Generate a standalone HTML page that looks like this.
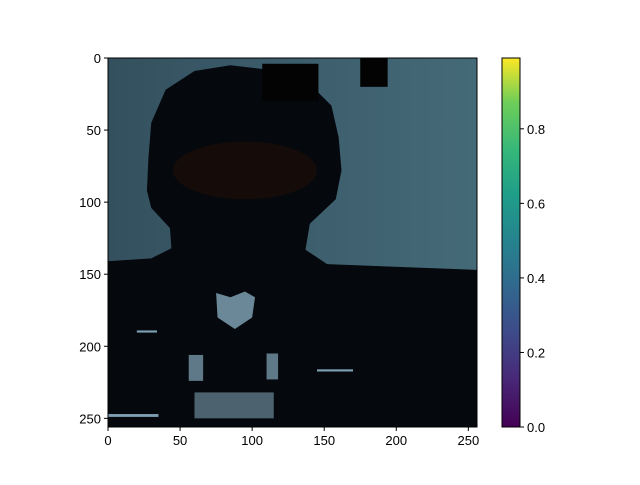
<!DOCTYPE html>
<html><head><meta charset="utf-8"><style>
body{margin:0;background:#fff;font-family:"Liberation Sans",sans-serif}
svg text{font-family:"Liberation Sans",sans-serif;font-size:13px;fill:#000}
</style></head><body>
<svg width="640" height="480" id="s">
<defs>
<linearGradient id="bg" x1="0" x2="1" y1="0" y2="0"><stop offset="0" stop-color="#34505e"/><stop offset="0.5" stop-color="#3c5d6c"/><stop offset="1" stop-color="#456a77"/></linearGradient>
<linearGradient id="cb" x1="0" x2="0" y1="1" y2="0">
<stop offset="0" stop-color="#440154"/><stop offset="0.13" stop-color="#482878"/><stop offset="0.25" stop-color="#3e4989"/><stop offset="0.38" stop-color="#31688e"/><stop offset="0.5" stop-color="#26828e"/><stop offset="0.63" stop-color="#1f9e89"/><stop offset="0.75" stop-color="#35b779"/><stop offset="0.88" stop-color="#6ece58"/><stop offset="1" stop-color="#fde725"/></linearGradient>
</defs>
<g transform="translate(108,58) scale(1.4414)">
<rect width="256" height="256" fill="url(#bg)"/>
<path fill="#05080c" d="M0,141 L30,139 L44,132 L43,118 L30,104 L27,92 L28,70 L30,45 L40,22 L60,9 L85,5 L110,8 L140,18 L155,33 L160,55 L162,78 L158,98 L140,115 L137,133 L152,143 L256,147 L256,256 L0,256 Z"/>
<ellipse cx="95" cy="78" rx="50" ry="20" fill="#150c0a"/>
<rect x="107" y="4" width="39" height="26" fill="#030303"/>
<rect x="175" y="0" width="19" height="20" fill="#030303"/>
<g fill="#7d9fb2">
<path d="M75,163 L85,166 L95,162 L102,166 L100,180 L88,188 L76,180 Z" opacity="0.85"/>
<rect x="56" y="206" width="10" height="18" opacity="0.75"/>
<rect x="110" y="205" width="8" height="18" opacity="0.75"/>
<rect x="60" y="232" width="55" height="18" opacity="0.6"/>
<rect x="20" y="189" width="14" height="1.5"/>
<rect x="145" y="216" width="25" height="1.5"/>
<rect x="0" y="247" width="35" height="2"/>
</g>
</g>
<rect x="108" y="58" width="369" height="369" fill="none" stroke="#000" stroke-width="1"/>
<rect x="502" y="58" width="18" height="369" fill="url(#cb)" stroke="#000" stroke-width="1"/>
<g id="ax"></g>
<script>
const xTicks=[0,50,100,150,200,250];
const yTicks=[0,50,100,150,200,250];
const cTicks=[0.0,0.2,0.4,0.6,0.8];
const cMax=0.99;
const ns="http://www.w3.org/2000/svg",g=document.getElementById('ax');
const sx=v=>108+v*369/256, sy=v=>58+v*369/256, sc=v=>427-v/cMax*369;
function ln(x1,y1,x2,y2){const l=document.createElementNS(ns,'line');l.setAttribute('x1',x1);l.setAttribute('y1',y1);l.setAttribute('x2',x2);l.setAttribute('y2',y2);l.setAttribute('stroke','#000');


g.appendChild(l);}
function tx(x,y,s,a){const t=document.createElementNS(ns,'text');t.setAttribute('x',x);t.setAttribute('y',y);t.setAttribute('text-anchor',a);t.textContent=s;


g.appendChild(t);}
xTicks.forEach(v=>{ln(sx(v),427,sx(v),431);tx(sx(v),445,v,'middle');});
yTicks.forEach(v=>{ln(104,sy(v),108,sy(v));tx(101,sy(v)+5,v,'end');});
cTicks.forEach(v=>{ln(520,sc(v),524,sc(v));tx(527,sc(v)+5,v.toFixed(1),'start');});
</script>
</svg>
</body></html>
